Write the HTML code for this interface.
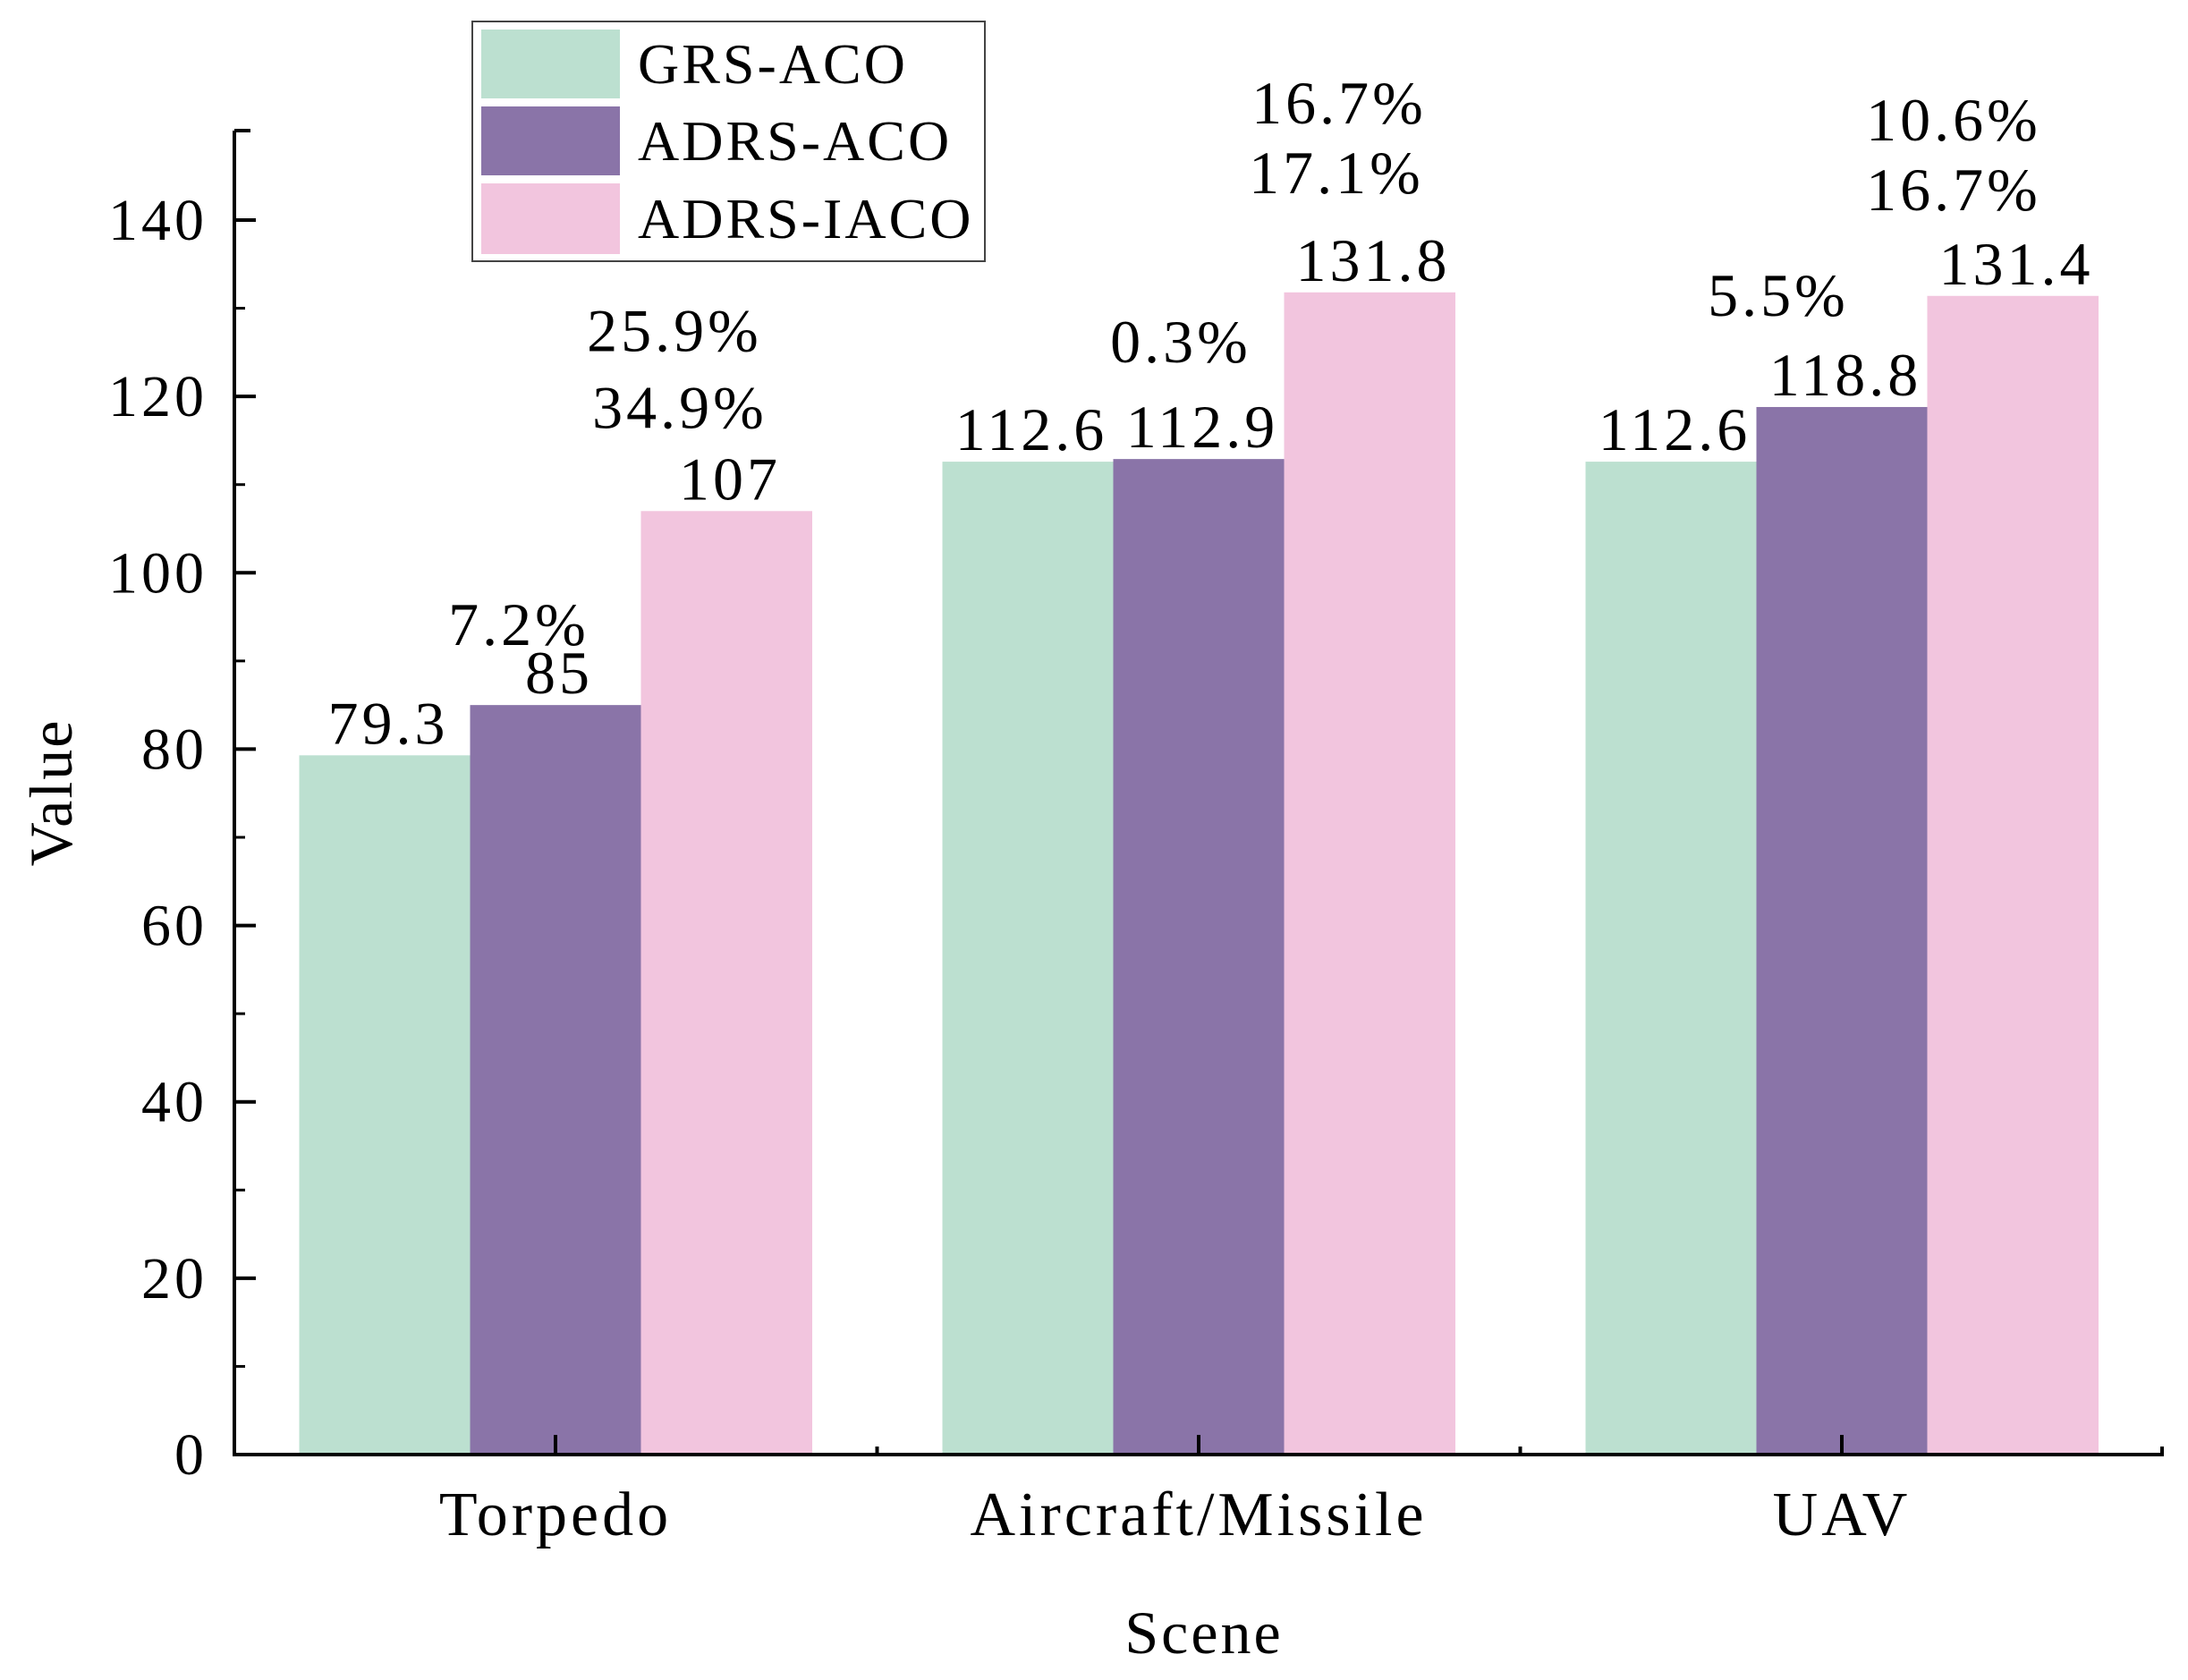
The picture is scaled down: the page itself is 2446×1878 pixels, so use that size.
<!DOCTYPE html>
<html><head><meta charset="utf-8"><style>
html,body{margin:0;padding:0;background:#fff;}
svg text{font-family:"Liberation Serif",serif;fill:#000;}
</style></head><body>
<svg id="chart" width="2446" height="1873" viewBox="0 0 2446 1873" xmlns="http://www.w3.org/2000/svg">
<g id="bars"></g>
<g id="axes"></g>
<g id="labels"></g>
<text x="0" y="0" transform="translate(80,886) rotate(-90)" text-anchor="middle" font-size="68" letter-spacing="2">Value</text>
<text x="1346" y="1848" text-anchor="middle" font-size="68" letter-spacing="3">Scene</text>
<g>
<rect x="528" y="24" width="573" height="268" fill="#fff" stroke="#444" stroke-width="2"/>
<rect x="538" y="33" width="155" height="77" fill="#bce0d0"/>
<rect x="538" y="119" width="155" height="77" fill="#8a74a8"/>
<rect x="538" y="205" width="155" height="79" fill="#f2c5de"/>
<text x="713" y="93" font-size="64" letter-spacing="3">GRS-ACO</text>
<text x="713" y="179" font-size="64" letter-spacing="3">ADRS-ACO</text>
<text x="713" y="266" font-size="64" letter-spacing="3">ADRS-IACO</text>
</g>
</svg>
<script>
const categories = ["Torpedo", "Aircraft/Missile", "UAV"];
const grsAco = [79.3, 112.6, 112.6];
const adrsAco = [85, 112.9, 118.8];
const adrsIaco = [107, 131.8, 131.4];
const yTicks = [0, 20, 40, 60, 80, 100, 120, 140];
const pctAdrsAco = [["7.2%"], ["0.3%"], ["5.5%"]];
const pctAdrsIaco = [["25.9%", "34.9%"], ["16.7%", "17.1%"], ["10.6%", "16.7%"]];

const NS = "http://www.w3.org/2000/svg";
const X0 = 262, X1 = 2419, Y0 = 1626, YTOP = 146;
const pxPerUnit = (1626 - 246) / 140;
function y(v){ return Y0 - v * pxPerUnit; }
const catStart = 621, catStep = 719;
function xc(i){ return catStart + i * catStep; }
const barW = 191;
function mk(tag, attrs, parent){ const e = document.createElementNS(NS, tag); for (const k in attrs) e.setAttribute(k, attrs[k]); parent.appendChild(e); return e; }
const bars = document.getElementById('bars'), axes = document.getElementById('axes'), labels = document.getElementById('labels');
const series = [[grsAco, "#bce0d0", "grs-aco"], [adrsAco, "#8a74a8", "adrs-aco"], [adrsIaco, "#f2c5de", "adrs-iaco"]];
series.forEach((s, si) => {
  s[0].forEach((v, i) => {
    const x = xc(i) + (si - 1.5) * barW;
    const r = mk('rect', {x: x, y: y(v), width: barW + 0.5, height: Y0 - y(v), fill: s[1]}, bars);
    
    
    const t = mk('text', {x: x + barW / 2 + 4, y: y(v) - 13, 'text-anchor': 'middle', 'font-size': 68, 'letter-spacing': 4}, labels);
    t.textContent = String(v);
    
    
  });
});
// percent label offsets relative to the bar top-center
const pDxA = [[-41], [-20], [-71]];
const pDyA = [[-67], [-108], [-102]];
const pDxI = [[-58, -52], [-34, -37], [-66, -66]];
const pDyI = [[-179, -93], [-189, -111], [-174, -96]];
pctAdrsAco.forEach((arr, i) => arr.forEach((p, j) => {
  const t = mk('text', {x: xc(i) + pDxA[i][j], y: y(adrsAco[i]) + pDyA[i][j], 'text-anchor': 'middle', 'font-size': 68, 'letter-spacing': 4}, labels);
  t.textContent = p;
  
  
}));
pctAdrsIaco.forEach((arr, i) => arr.forEach((p, j) => {
  const t = mk('text', {x: xc(i) + barW + pDxI[i][j], y: y(adrsIaco[i]) + pDyI[i][j], 'text-anchor': 'middle', 'font-size': 68, 'letter-spacing': 4}, labels);
  t.textContent = p;
  
  
}));
// axes
const ya = mk('line', {x1: X0, y1: YTOP, x2: X0, y2: Y0 + 2, stroke: '#000', 'stroke-width': 4}, axes);


const xa = mk('line', {x1: X0 - 2, y1: Y0, x2: X1, y2: Y0, stroke: '#000', 'stroke-width': 4}, axes);


mk('line', {x1: X0, y1: YTOP, x2: X0 + 18, y2: YTOP, stroke: '#000', 'stroke-width': 4}, axes);
for (let v = 10; v < 150; v += 20) mk('line', {x1: X0, y1: y(v), x2: X0 + 12, y2: y(v), stroke: '#000', 'stroke-width': 3}, axes);
yTicks.forEach(v => {
  mk('line', {x1: X0, y1: y(v), x2: X0 + 24, y2: y(v), stroke: '#000', 'stroke-width': 4}, axes);
  const t = mk('text', {x: X0 - 30, y: y(v) + 22, 'text-anchor': 'end', 'font-size': 66, 'letter-spacing': 4}, axes);
  t.textContent = v;
  
  
});
categories.forEach((c, i) => {
  mk('line', {x1: xc(i), y1: Y0, x2: xc(i), y2: Y0 - 22, stroke: '#000', 'stroke-width': 4}, axes);
  if (i > 0) mk('line', {x1: xc(i) - catStep / 2, y1: Y0, x2: xc(i) - catStep / 2, y2: Y0 - 9, stroke: '#000', 'stroke-width': 4}, axes);
  const t = mk('text', {x: xc(i), y: Y0 + 90, 'text-anchor': 'middle', 'font-size': 70, 'letter-spacing': 4}, axes);
  t.textContent = c;
  
  
});
mk('line', {x1: X1 - 2, y1: Y0, x2: X1 - 2, y2: Y0 - 9, stroke: '#000', 'stroke-width': 4}, axes);
</script>
</body></html>
